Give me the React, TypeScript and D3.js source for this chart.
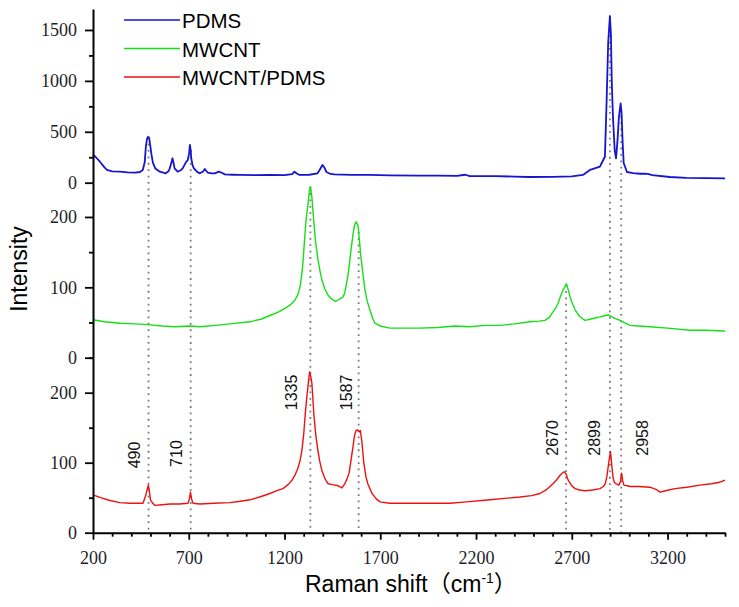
import React, { useEffect, useRef } from 'react';
import * as d3 from 'd3';

// ---- data (Raman shift cm^-1, intensity) ----
const pdms: [number, number][] = [
  [200, 275], [215, 250], [236, 206], [260, 150], [273, 125], [300, 112], [341, 108], [380, 102], [419, 98],
  [445, 105], [460, 125], [470, 200], [476, 353], [482, 430], [488, 451], [493, 440], [497, 390], [505, 280],
  [513, 194], [525, 140], [549, 108], [580, 92], [595, 115], [601, 141], [610, 200], [615, 240], [620, 200],
  [626, 141], [642, 108], [660, 125], [668, 141], [685, 200], [695, 223], [702, 290], [706, 372], [710, 320],
  [713, 240], [720, 170], [727, 141], [745, 105], [758, 92], [775, 110], [784, 135], [792, 115], [800, 98],
  [820, 92], [836, 92], [857, 108], [875, 95], [888, 82], [930, 78], [966, 76], [1050, 74], [1122, 76],
  [1200, 74], [1240, 85], [1252, 108], [1264, 90], [1278, 76], [1330, 78], [1372, 92], [1385, 130], [1398, 174],
  [1408, 150], [1419, 105], [1440, 86], [1460, 82], [1550, 76], [1643, 76], [1750, 72], [1900, 70], [2000, 70],
  [2100, 68], [2143, 78], [2164, 66], [2300, 64], [2400, 60], [2476, 56], [2600, 58], [2700, 62], [2758, 76],
  [2795, 125], [2847, 157], [2864, 223], [2873, 255], [2882, 812], [2890, 1372], [2899, 1637], [2904, 1470],
  [2909, 978], [2915, 645], [2924, 320], [2931, 240], [2939, 420], [2946, 645], [2955, 780], [2960, 683],
  [2965, 420], [2971, 194], [2988, 105], [3020, 95], [3056, 88], [3080, 90], [3097, 86], [3120, 75],
  [3212, 56], [3300, 48], [3400, 45], [3500, 43],
];

const mwcnt: [number, number][] = [
  [200, 54], [260, 51], [341, 49], [420, 48], [487, 47], [560, 45], [628, 44], [706, 45], [759, 44], [840, 46],
  [915, 48], [1020, 51], [1080, 55], [1124, 60], [1170, 65], [1202, 70], [1230, 75], [1255, 82], [1270, 90],
  [1281, 101], [1290, 118], [1296, 134], [1304, 165], [1312, 195], [1323, 219], [1329, 235], [1335, 243],
  [1340, 235], [1343, 228], [1348, 210], [1354, 190], [1362, 165], [1375, 139], [1386, 122], [1396, 110],
  [1410, 98], [1427, 89], [1440, 85], [1453, 82], [1466, 80], [1479, 82], [1492, 84], [1505, 86], [1514, 92],
  [1521, 101], [1530, 115], [1537, 129], [1548, 155], [1558, 176], [1565, 188], [1573, 193], [1580, 190],
  [1584, 188], [1590, 170], [1599, 143], [1610, 118], [1620, 96], [1632, 80], [1646, 68], [1660, 56],
  [1672, 49], [1700, 45], [1750, 42], [1830, 42], [1907, 42], [2000, 43], [2090, 45], [2168, 44], [2250, 46],
  [2325, 46], [2400, 48], [2482, 51], [2530, 52], [2560, 53], [2585, 58], [2597, 63], [2615, 70], [2628, 77],
  [2642, 88], [2654, 96], [2665, 101], [2672, 105], [2682, 96], [2691, 86], [2705, 76], [2717, 68], [2740, 59],
  [2769, 53], [2800, 55], [2847, 58], [2875, 60], [2890, 61], [2925, 56], [2952, 53], [2980, 49], [3004, 46],
  [3050, 45], [3108, 44], [3200, 42], [3317, 39], [3400, 39], [3500, 38],
];

const hybrid: [number, number][] = [
  [200, 54], [240, 50], [289, 46], [340, 43], [393, 42], [430, 42], [461, 42], [476, 54], [483, 62], [489, 68],
  [494, 60], [500, 47], [512, 42], [524, 39], [560, 40], [602, 41], [650, 41], [696, 42], [703, 48], [709, 58],
  [715, 48], [722, 42], [758, 41], [830, 42], [915, 43], [970, 45], [1020, 47], [1070, 51], [1124, 56],
  [1160, 60], [1192, 63], [1220, 69], [1239, 75], [1256, 83], [1270, 92], [1282, 104], [1291, 118], [1300, 140],
  [1307, 165], [1315, 190], [1322, 208], [1331, 230], [1338, 222], [1343, 213], [1348, 192], [1353, 170],
  [1363, 140], [1374, 118], [1384, 102], [1395, 89], [1410, 78], [1427, 70], [1445, 69], [1463, 68], [1480, 67],
  [1500, 64], [1515, 70], [1528, 78], [1537, 85], [1547, 103], [1557, 122], [1565, 138], [1573, 146],
  [1580, 147], [1589, 144], [1596, 146], [1604, 130], [1614, 100], [1625, 80], [1635, 70], [1646, 63],
  [1657, 56], [1680, 48], [1699, 44], [1750, 42], [1803, 42], [1900, 42], [2000, 42], [2064, 42], [2150, 44],
  [2273, 47], [2350, 49], [2430, 51], [2490, 53], [2534, 56], [2570, 62], [2602, 70], [2622, 76], [2639, 82],
  [2650, 85], [2660, 87], [2670, 84], [2681, 75], [2700, 67], [2717, 63], [2740, 61], [2769, 60], [2810, 61],
  [2847, 63], [2865, 66], [2875, 70], [2883, 80], [2890, 94], [2896, 106], [2902, 116], [2906, 104],
  [2911, 90], [2916, 78], [2922, 72], [2930, 70], [2946, 68], [2954, 73], [2960, 85], [2966, 74], [2972, 68],
  [2990, 67], [3004, 66], [3050, 66], [3108, 65], [3140, 62], [3161, 58], [3190, 60], [3239, 63], [3300, 65],
  [3369, 68], [3430, 70], [3470, 72], [3500, 75],
];

const seriesNames = ['PDMS', 'MWCNT', 'MWCNT/PDMS'];

const xTicks = [200, 700, 1200, 1700, 2200, 2700, 3200];
const xMinorTicks = [300, 400, 500, 600, 800, 900, 1000, 1100, 1300, 1400, 1500, 1600, 1800, 1900, 2000, 2100,
  2300, 2400, 2500, 2600, 2800, 2900, 3000, 3100, 3300, 3400, 3500];
const pdmsTicks = [0, 500, 1000, 1500];
const pdmsMinorTicks = [250, 750, 1250];
const mwcntTicks = [0, 100, 200];
const mwcntMinorTicks = [50, 150];
const hybridTicks = [0, 100, 200];
const hybridMinorTicks = [50, 150, 250];

// peak markers and their annotation anchors (shift, intensity in the bottom panel)
const peakShifts = [490, 710, 1335, 1587, 2670, 2899, 2958];
const peakPanel = [0, 0, 1, 1, 1, 0, 0];
const peakLabels = ['490', '710', '1335', '1587', '2670', '2899', '2958'];
const peakLabelShift = [445, 665, 1265, 1552, 2628, 2847, 3098];
const peakLabelValue = [92, 94, 175, 175, 110, 110, 110];

const W = 739;
const H = 607;

export default function App() {
  const ref = useRef<SVGSVGElement | null>(null);

  useEffect(() => {
    const svg = d3.select(ref.current);
    svg.selectAll('*').remove();

    const x = d3.scaleLinear().domain([200, 3500]).range([93, 725]);
    const yTop = d3.scaleLinear().domain([0, 1706]).range([182.7, 9]);
    const yMid = d3.scaleLinear().domain([0, 248.7]).range([357.7, 182.7]);
    const yBot = d3.scaleLinear().domain([0, 250]).range([532.7, 357.7]);

    const colors = ['#1515cf', '#14e014', '#ee1010'];
    const datasets = [pdms, mwcnt, hybrid];
    const scales = [yTop, yMid, yBot];

    const interp = (data: [number, number][], s: number) => {
      const i = d3.bisector((d: [number, number]) => d[0]).left(data, s);
      if (i <= 0) return data[0][1];
      if (i >= data.length) return data[data.length - 1][1];
      const a = data[i - 1], b = data[i];
      return a[1] + (b[1] - a[1]) * (s - a[0]) / (b[0] - a[0]);
    };

    // dotted peak markers: from the peak of the marked curve down to the x axis
    const gDots = svg.append('g');
    peakShifts.forEach((s, i) => {
      const k = peakPanel[i];
      const top = scales[k](interp(datasets[k], s));
      gDots.append('line')
        .attr('x1', x(s)).attr('x2', x(s))
        .attr('y1', top).attr('y2', yBot(0))
        .attr('stroke', '#7a7a7a').attr('stroke-width', 1.8)
        .attr('stroke-dasharray', '1.8 4.6');
    });

    // curves
    datasets.forEach((data, k) => {
      const line = d3.line<[number, number]>()
        .x((d) => x(d[0]))
        .y((d) => scales[k](d[1]))
        .curve(d3.curveLinear);
      svg.append('path')
        .attr('d', line(data) as string)
        .attr('fill', 'none')
        .attr('stroke', colors[k])
        .attr('stroke-width', k === 0 ? 1.8 : 1.4)
        .attr('stroke-linejoin', 'round');
    });

    const tickFont = "'Liberation Serif', 'DejaVu Serif', serif";

    const styleAxis = (g: any) => {
      g.attr('font-family', null).attr('font-size', null);
      g.selectAll('path.domain').attr('stroke', '#000').attr('stroke-width', 2);
      g.selectAll('line').attr('stroke', '#000').attr('stroke-width', 1.8);
      g.selectAll('text')
        .style('font-family', tickFont)
        .style('font-size', '18px')
        .attr('fill', '#1e1e2a');
    };

    // y axes
    const yAxes: [d3.ScaleLinear<number, number>, number[], number[]][] = [
      [yTop, pdmsTicks, pdmsMinorTicks],
      [yMid, mwcntTicks, mwcntMinorTicks],
      [yBot, hybridTicks, hybridMinorTicks],
    ];
    yAxes.forEach(([sc, major, minor]) => {
      const g = svg.append('g').attr('transform', 'translate(93,0)');
      g.call(d3.axisLeft(sc).tickValues(major).tickSize(8).tickSizeOuter(0).tickPadding(8).tickFormat(d3.format('d')) as any);
      styleAxis(g);
      const gm = svg.append('g').attr('transform', 'translate(93,0)');
      gm.call(d3.axisLeft(sc).tickValues(minor).tickSize(4).tickSizeOuter(0).tickFormat(() => '') as any);
      gm.select('path.domain').remove();
      styleAxis(gm);
    });

    // x axis
    const gx = svg.append('g').attr('transform', `translate(0,${yBot(0)})`);
    gx.call(d3.axisBottom(x).tickValues(xTicks).tickSize(7).tickSizeOuter(0).tickPadding(12).tickFormat(d3.format('d')) as any);
    styleAxis(gx);
    const gxm = svg.append('g').attr('transform', `translate(0,${yBot(0)})`);
    gxm.call(d3.axisBottom(x).tickValues(xMinorTicks).tickSize(4).tickSizeOuter(0).tickFormat(() => '') as any);
    gxm.select('path.domain').remove();
    styleAxis(gxm);

    const sans = "'Liberation Sans', Arial, 'Noto Sans CJK SC', sans-serif";

    // peak annotations
    peakLabels.forEach((lbl, i) => {
      svg.append('text')
        .attr('transform', `translate(${x(peakLabelShift[i])},${yBot(peakLabelValue[i])}) rotate(-90)`)
        .attr('text-anchor', 'start')
        .style('font-family', sans)
        .style('font-size', '16px')
        .attr('fill', '#111')
        .text(lbl);
    });

    // legend
    const lg = svg.append('g');
    seriesNames.forEach((name, i) => {
      const yy = 20 + i * 28.5;
      lg.append('line').attr('x1', 124).attr('x2', 180).attr('y1', yy).attr('y2', yy)
        .attr('stroke', colors[i]).attr('stroke-width', 1.3);
      lg.append('text').attr('x', 182).attr('y', yy + 8.3)
        .style('font-family', sans).style('font-size', '20.5px').attr('fill', '#000').text(name);
    });

    // axis titles
    svg.append('text')
      .attr('transform', 'translate(26.5,269) rotate(-90)')
      .attr('text-anchor', 'middle')
      .style('font-family', sans).style('font-size', '23px').attr('fill', '#000')
      .text('Intensity');

    const xt = svg.append('text')
      .attr('x', 305).attr('y', 591.7)
      .style('font-family', sans).style('font-size', '23px').attr('fill', '#000');
    xt.append('tspan').text('Raman shift\uFF08cm');
    xt.append('tspan').style('font-size', '14px').attr('dy', -9).text('-1');
    xt.append('tspan').attr('dy', 9).text('\uFF09');
  }, []);

  return (
    <svg
      ref={ref}
      width={W}
      height={H}
      viewBox={`0 0 ${W} ${H}`}
      style={{ position: 'absolute', left: 0, top: 0, background: '#fff' }}
    />
  );
}
